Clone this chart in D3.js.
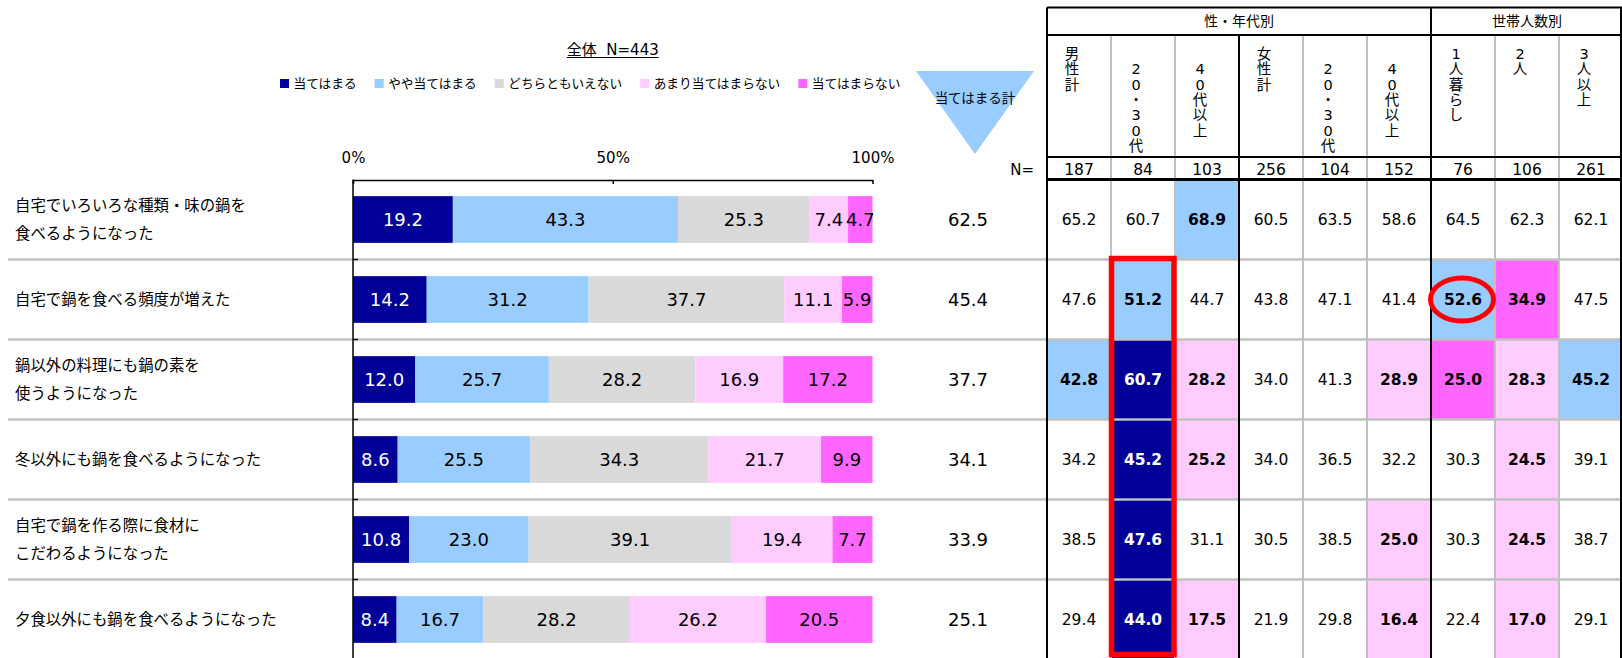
<!DOCTYPE html>
<html>
<head>
<meta charset="utf-8">
<script src="https://cdn.jsdelivr.net/npm/d3@7"></script>
<style>
  body { margin: 0; background: #fff; }
  svg { display: block; }
</style>
</head>
<body>
<script>
// ------------------------------------------------------------
// data

let items = [
  "自宅でいろいろな種類・味の鍋を\n食べるようになった",
  "自宅で鍋を食べる頻度が増えた",
  "鍋以外の料理にも鍋の素を\n使うようになった",
  "冬以外にも鍋を食べるようになった",
  "自宅で鍋を作る際に食材に\nこだわるようになった",
  "夕食以外にも鍋を食べるようになった"
];

let categories = ["当てはまる", "やや当てはまる", "どちらともいえない", "あまり当てはまらない", "当てはまらない"];

let applies     = [19.2, 14.2, 12.0,  8.6, 10.8,  8.4];
let somewhat    = [43.3, 31.2, 25.7, 25.5, 23.0, 16.7];
let neither     = [25.3, 37.7, 28.2, 34.3, 39.1, 28.2];
let notReally   = [ 7.4, 11.1, 16.9, 21.7, 19.4, 26.2];
let notAtAll    = [ 4.7,  5.9, 17.2,  9.9,  7.7, 20.5];

let appliesTotal = [62.5, 45.4, 37.7, 34.1, 33.9, 25.1];

let title = "全体  N=443";
let tickValues = [0, 50, 100];

let groupHeaders = ["性・年代別", "世帯人数別"];
let groupSpans = [6, 3];
// leading full-width space = the blank first line in the original header cell
let colHeaders = ["男性計", "　20・30代", "　40代以上", "女性計", "　20・30代", "　40代以上", "1人暮らし", "2人", "3人以上"];
let nCounts = [187, 84, 103, 256, 104, 152, 76, 106, 261];

let tableRows = [
  [65.2, 60.7, 68.9, 60.5, 63.5, 58.6, 64.5, 62.3, 62.1],
  [47.6, 51.2, 44.7, 43.8, 47.1, 41.4, 52.6, 34.9, 47.5],
  [42.8, 60.7, 28.2, 34.0, 41.3, 28.9, 25.0, 28.3, 45.2],
  [34.2, 45.2, 25.2, 34.0, 36.5, 32.2, 30.3, 24.5, 39.1],
  [38.5, 47.6, 31.1, 30.5, 38.5, 25.0, 30.3, 24.5, 38.7],
  [29.4, 44.0, 17.5, 21.9, 29.8, 16.4, 22.4, 17.0, 29.1]
];

// ------------------------------------------------------------
// look

let colors = ["#000099", "#99CCFF", "#D9D9D9", "#FFCCFF", "#FF66FF"];
let jp = "'Noto Sans CJK JP', sans-serif";
let num = "'DejaVu Sans', 'Noto Sans CJK JP', sans-serif";
let gridGray = "#C0C0C0";

let W = 1622, H = 658;

let svg = d3.select("body").append("svg")
  .attr("width", W)
  .attr("height", H);

// rows (full height) and bars (padded)
let rowY = d3.scaleBand().domain(d3.range(items.length)).range([179.5, 659.5]);
let barY = rowY.copy().paddingInner(0.416).paddingOuter(0.208);

let x = d3.scaleLinear().domain([0, 1]).range([353, 872.5]);
let xPct = d3.scaleLinear().domain([0, 100]).range([353, 872.5]);

let col = d3.scaleBand().domain(d3.range(colHeaders.length)).range([1047, 1623]);

// cell highlight relative to overall (same rule as the original table)
function cellFill(v, total) {
  let d = Math.round((v - total) * 10) / 10;
  if (d >= 10) return colors[0];
  if (d > 5) return colors[1];
  if (d <= -10) return colors[4];
  if (d < -5) return colors[3];
  return null;
}

////////////////////////////////////////////////////////////////
// table fills

let cells = [];
tableRows.forEach(function(r, i) {
  r.forEach(function(v, j) {
    cells.push({ i: i, j: j, v: v, fill: cellFill(v, appliesTotal[i]) });
  });
});

svg.append("g")
  .selectAll("rect")
  .data(cells.filter(d => d.fill))
  .enter()
  .append("rect")
  .attr("x", d => col(d.j))
  .attr("y", d => rowY(d.i))
  .attr("width", col.bandwidth())
  .attr("height", rowY.bandwidth())
  .attr("fill", d => d.fill);

// gray verticals inside the table
let grayCols = [1, 2, 4, 5, 7, 8];
svg.append("g")
  .selectAll("line")
  .data(grayCols)
  .enter()
  .append("line")
  .attr("x1", d => col(d)).attr("x2", d => col(d))
  .attr("y1", 35).attr("y2", H)
  .attr("stroke", gridGray)
  .attr("stroke-width", 2);

// row separators across the whole picture
svg.append("g")
  .selectAll("line")
  .data(d3.range(1, items.length))
  .enter()
  .append("line")
  .attr("x1", 8).attr("x2", W)
  .attr("y1", d => rowY(d)).attr("y2", d => rowY(d))
  .attr("stroke", gridGray)
  .attr("stroke-width", 2.5);

////////////////////////////////////////////////////////////////
// stacked bars

let rows = items.map((t, i) => [applies[i], somewhat[i], neither[i], notReally[i], notAtAll[i]]);

let series = d3.stack()
  .keys(d3.range(categories.length))
  .value((d, k) => d[k])
  .offset(d3.stackOffsetExpand)(rows);

let fmt = d3.format(".1f");

let layers = svg.append("g")
  .selectAll("g")
  .data(series)
  .enter()
  .append("g")
  .attr("fill", d => colors[d.key]);

layers.selectAll("rect")
  .data(d => d)
  .enter()
  .append("rect")
  .attr("x", d => x(d[0]))
  .attr("y", (d, i) => barY(i))
  .attr("width", d => x(d[1]) - x(d[0]))
  .attr("height", barY.bandwidth());

layers.selectAll("text")
  .data(d => d.map((p, i) => ({ p: p, i: i, k: d.key })))
  .enter()
  .append("text")
  .attr("x", d => (x(d.p[0]) + x(d.p[1])) / 2)
  .attr("y", d => barY(d.i) + barY.bandwidth() / 2)
  .attr("dy", "0.36em")
  .attr("text-anchor", "middle")
  .attr("font-family", num)
  .attr("font-size", 18)
  .attr("fill", d => d.k === 0 ? "#fff" : "#000")
  .text(d => fmt(rows[d.i][d.k]));

// axes
let topAxis = svg.append("g")
  .attr("transform", "translate(0,180)")
  .call(d3.axisTop(xPct)
    .tickValues(tickValues)
    .tickFormat(d => d + "%")
    .tickSizeInner(-4)
    .tickSizeOuter(0)
    .tickPadding(17.5));
topAxis.select(".domain").attr("stroke", "#000").attr("stroke-width", 1.5);
topAxis.selectAll(".tick line").attr("stroke", "#000").attr("stroke-width", 1.5);
topAxis.selectAll("text")
  .attr("font-family", num)
  .attr("font-size", 15)
  .attr("fill", "#000");

svg.append("line")
  .attr("x1", xPct(0)).attr("x2", xPct(0))
  .attr("y1", 179.5).attr("y2", H)
  .attr("stroke", "#000")
  .attr("stroke-width", 1.5);

svg.append("g")
  .selectAll("line")
  .data(d3.range(1, items.length))
  .enter()
  .append("line")
  .attr("x1", xPct(0)).attr("x2", xPct(0) + 5)
  .attr("y1", d => rowY(d)).attr("y2", d => rowY(d))
  .attr("stroke", "#000")
  .attr("stroke-width", 1.5);

// item labels
let labels = svg.append("g")
  .selectAll("text")
  .data(items)
  .enter()
  .append("text")
  .attr("font-family", jp)
  .attr("font-size", 15.4)
  .attr("fill", "#000");

labels.each(function(t, i) {
  let lines = t.split("\n");
  let cy = rowY(i) + rowY.bandwidth() / 2;
  d3.select(this).selectAll("tspan")
    .data(lines)
    .enter()
    .append("tspan")
    .attr("x", 15)
    .attr("y", (l, k) => cy + (k - (lines.length - 1) / 2) * 27.5)
    .attr("dy", "0.36em")
    .text(l => l);
});

// title + legend
let titleText = svg.append("text")
  .attr("x", xPct(50))
  .attr("y", 50)
  .attr("dy", "0.36em")
  .attr("text-anchor", "middle")
  .attr("font-family", num)
  .attr("font-size", 15)
  .attr("fill", "#000")
  .style("white-space", "pre")
  .text(title);
let tb = titleText.node().getBBox();
svg.append("line")
  .attr("x1", tb.x).attr("x2", tb.x + tb.width)
  .attr("y1", 57.5).attr("y2", 57.5)
  .attr("stroke", "#000")
  .attr("stroke-width", 1);

let legend = svg.append("g");
let lx = 280;
categories.forEach(function(c, k) {
  legend.append("rect")
    .attr("x", lx).attr("y", 79)
    .attr("width", 9).attr("height", 9)
    .attr("fill", colors[k]);
  let t = legend.append("text")
    .attr("x", lx + 13.5)
    .attr("y", 83.5)
    .attr("dy", "0.36em")
    .attr("font-family", jp)
    .attr("font-size", 12.7)
    .attr("fill", "#000")
    .text(c);
  lx += 13.5 + t.node().getComputedTextLength() + 18;
});

// 当てはまる計 triangle + column
svg.append("path")
  .attr("d", d3.line()([[916, 71], [1034, 71], [975, 154]]) + "Z")
  .attr("fill", colors[1]);
svg.append("text")
  .attr("x", 975).attr("y", 98)
  .attr("dy", "0.36em")
  .attr("text-anchor", "middle")
  .attr("font-family", jp)
  .attr("font-size", 13.5)
  .attr("fill", "#000")
  .text("当てはまる計");

svg.append("g")
  .selectAll("text")
  .data(appliesTotal)
  .enter()
  .append("text")
  .attr("x", 968)
  .attr("y", (d, i) => rowY(i) + rowY.bandwidth() / 2)
  .attr("dy", "0.36em")
  .attr("text-anchor", "middle")
  .attr("font-family", num)
  .attr("font-size", 18)
  .attr("fill", "#000")
  .text(d => fmt(d));

////////////////////////////////////////////////////////////////
// table texts + borders

// group header row
let gx = 0;
groupHeaders.forEach(function(g, k) {
  let x0 = col(gx), x1 = col(gx + groupSpans[k] - 1) + col.bandwidth();
  svg.append("text")
    .attr("x", (x0 + x1) / 2)
    .attr("y", 21.3)
    .attr("dy", "0.36em")
    .attr("text-anchor", "middle")
    .attr("font-family", jp)
    .attr("font-size", 14)
    .attr("fill", "#000")
    .text(g);
  gx += groupSpans[k];
});

// vertical column headers, one glyph per line
colHeaders.forEach(function(h, j) {
  let chars = Array.from(h);
  svg.append("g")
    .selectAll("text")
    .data(chars)
    .enter()
    .append("text")
    .attr("x", col(j) + col.bandwidth() / 2 - 7)
    .attr("y", (c, k) => 53.5 + k * 15.4)
    .attr("dy", "0.36em")
    .attr("text-anchor", "middle")
    .attr("font-family", num)
    .attr("font-size", 14.5)
    .attr("fill", "#000")
    .text(c => c);
});

// N row
svg.append("text")
  .attr("x", 1034).attr("y", 169.5)
  .attr("dy", "0.36em")
  .attr("text-anchor", "end")
  .attr("font-family", num)
  .attr("font-size", 15)
  .attr("fill", "#000")
  .text("N=");

svg.append("g")
  .selectAll("text")
  .data(nCounts)
  .enter()
  .append("text")
  .attr("x", (d, j) => col(j) + col.bandwidth() / 2)
  .attr("y", 169.5)
  .attr("dy", "0.36em")
  .attr("text-anchor", "middle")
  .attr("font-family", num)
  .attr("font-size", 15.5)
  .attr("fill", "#000")
  .text(d => d);

// values
svg.append("g")
  .selectAll("text")
  .data(cells)
  .enter()
  .append("text")
  .attr("x", d => col(d.j) + col.bandwidth() / 2)
  .attr("y", d => rowY(d.i) + rowY.bandwidth() / 2)
  .attr("dy", "0.36em")
  .attr("text-anchor", "middle")
  .attr("font-family", num)
  .attr("font-size", 15.5)
  .attr("font-weight", d => d.fill ? "bold" : "normal")
  .attr("fill", d => d.fill === colors[0] ? "#fff" : "#000")
  .text(d => fmt(d.v));

// black borders
let hLines = [7.5, 35, 157, 179.5];
svg.append("g")
  .selectAll("line")
  .data(hLines)
  .enter()
  .append("line")
  .attr("x1", col(0)).attr("x2", W)
  .attr("y1", d => d).attr("y2", d => d)
  .attr("stroke", "#000")
  .attr("stroke-width", (d, i) => i === 3 ? 3 : 2);

let vLines = [[col(0), 7.5], [col(3), 35], [col(6), 7.5], [W - 1, 7.5]];
svg.append("g")
  .selectAll("line")
  .data(vLines)
  .enter()
  .append("line")
  .attr("x1", d => d[0]).attr("x2", d => d[0])
  .attr("y1", d => d[1]).attr("y2", H)
  .attr("stroke", "#000")
  .attr("stroke-width", 2);

// red call-outs
svg.append("rect")
  .attr("x", col(1) + 0.5)
  .attr("y", rowY(1) - 1)
  .attr("width", col.bandwidth() - 1.5)
  .attr("height", rowY.step() * 5 - 4)
  .attr("fill", "none")
  .attr("stroke", "#FF0000")
  .attr("stroke-width", 5.5);

svg.append("ellipse")
  .attr("cx", col(6) + col.bandwidth() / 2 - 1)
  .attr("cy", rowY(1) + rowY.bandwidth() / 2)
  .attr("rx", 31.5)
  .attr("ry", 21.5)
  .attr("fill", "none")
  .attr("stroke", "#FF0000")
  .attr("stroke-width", 5);
</script>
</body>
</html>
